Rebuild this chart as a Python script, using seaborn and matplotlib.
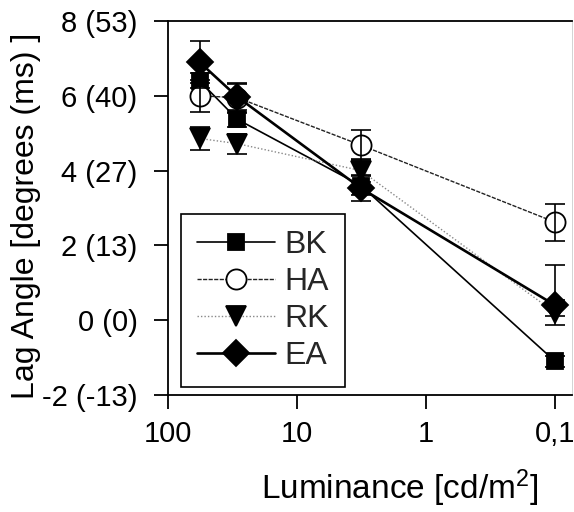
import numpy as np
import matplotlib
matplotlib.use("Agg")
import matplotlib.pyplot as plt
import seaborn as sns

# --- data ---
luminance = [57, 29, 3.2, 0.1]          # cd/m^2
subjects  = ["BK", "HA", "RK", "EA"]

bk     = [6.40, 5.37, 3.60, -1.10]
bk_err = [0.20, 0.20, 0.25, 0.15]
ha     = [6.00, 5.95, 4.68, 2.62]
ha_err = [0.43, 0.40, 0.40, 0.50]
rk     = [4.86, 4.72, 4.00, 0.20]
rk_err = [0.30, 0.27, 0.30, 0.33]
ea        = [6.90, 5.97, 3.53, 0.40]
ea_err_lo = [0.56, 0.35, 0.35, 0.30]
ea_err_hi = [0.56, 0.35, 0.35, 1.07]

y_ticks       = [-2, 0, 2, 4, 6, 8]
y_tick_labels = ["-2 (-13)", "0 (0)", "2 (13)", "4 (27)", "6 (40)", "8 (53)"]
x_ticks       = [100, 10, 1, 0.1]
x_tick_labels = ["100", "10", "1", "0,1"]

sns.set_theme(style="ticks")
plt.rcParams["font.family"] = ["Liberation Sans", "DejaVu Sans"]
plt.rcParams["mathtext.fontset"] = "custom"
plt.rcParams["mathtext.rm"] = "Liberation Sans"
plt.rcParams["mathtext.it"] = "Liberation Sans:italic"

fig = plt.figure(figsize=(5.74, 5.12), dpi=100)
ax = fig.add_axes([0.2927, 0.2285, 0.7038, 0.7305])

styles = {
    "BK": dict(marker="s", ms=12, mfc="black", ls="-", lw=1.2, color="black"),
    "HA": dict(marker="o", ms=14.5, mfc="white", ls=(0, (3, 1)), lw=1.0, color="#222222"),
    "RK": dict(marker="v", ms=15, mfc="black", ls=(0, (1, 1.5)), lw=1.0, color="#888888"),
    "EA": dict(marker="D", ms=13, mfc="black", ls="-", lw=1.9, color="black"),
}
series = {
    "BK": (bk, [bk_err, bk_err]),
    "HA": (ha, [ha_err, ha_err]),
    "RK": (rk, [rk_err, rk_err]),
    "EA": (ea, [ea_err_lo, ea_err_hi]),
}

for name in subjects:
    vals, err = series[name]
    st = styles[name]
    sns.lineplot(x=luminance, y=vals, ax=ax, label=name, sort=False, errorbar=None,
                 color=st["color"], linestyle=st["ls"], linewidth=st["lw"],
                 marker=st["marker"], markersize=st["ms"],
                 markerfacecolor=st["mfc"], markeredgecolor="black",
                 markeredgewidth=1.3, zorder=3)
    ax.errorbar(luminance, vals, yerr=err, fmt="none", ecolor="black",
                elinewidth=1.2, capsize=7, capthick=1.2, zorder=4)

ax.set_xscale("log")
ax.set_xlim(100, 0.074)
ax.set_ylim(-2, 8)
ax.set_xticks(x_ticks)
ax.set_xticklabels(x_tick_labels)
ax.minorticks_off()
ax.set_yticks(y_ticks)
ax.set_yticklabels(y_tick_labels)
ax.tick_params(axis="both", direction="out", length=10, width=1.3,
               color="black", labelsize=21, labelcolor="black")
ax.tick_params(axis="y", pad=12)
ax.tick_params(axis="x", pad=8)

for side in ["left", "bottom", "top"]:
    ax.spines[side].set_color("black")
    ax.spines[side].set_linewidth(1.3)
ax.spines["right"].set_color("#cccccc")
ax.spines["right"].set_linewidth(0.6)

ax.set_xlabel("Luminance [cd/m$^2$]", fontsize=24, color="black")
ax.xaxis.set_label_coords(0.574, -0.195)
ax.set_ylabel("Lag Angle [degrees (ms) ]", fontsize=23, color="black")
ax.yaxis.set_label_coords(-0.315, 0.48)

leg = ax.legend(loc="lower left", bbox_to_anchor=(0.032, 0.021), borderaxespad=0,
                fontsize=23, frameon=True, fancybox=False, framealpha=1,
                edgecolor="black", handlelength=2.45, handletextpad=0.3,
                labelspacing=0.22, borderpad=0.5)
leg.get_frame().set_linewidth(1.2)

fig.savefig("out.png", dpi=100)
